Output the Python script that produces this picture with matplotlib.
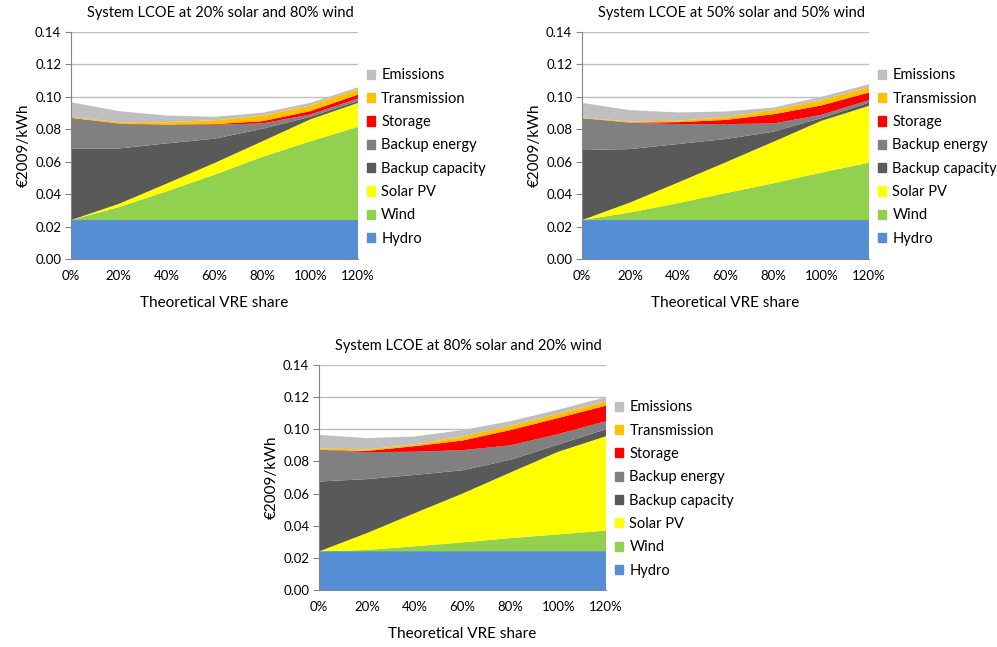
import numpy as np
import matplotlib.pyplot as plt
from matplotlib.patches import Patch
from matplotlib.ticker import FormatStrFormatter

plt.rcParams['font.family'] = ['Lato', 'DejaVu Sans']

# theoretical VRE share (%)
share = [0, 20, 40, 60, 80, 100, 120]
share_labels = ["0%", "20%", "40%", "60%", "80%", "100%", "120%"]

layers = ["Hydro", "Wind", "Solar PV", "Backup capacity", "Backup energy",
          "Storage", "Transmission", "Emissions"]
colors = ["#558ED5", "#92D050", "#FFFF00", "#595959", "#808080",
          "#FF0000", "#FFC000", "#BFBFBF"]

# 20% solar / 80% wind  (EUR2009/kWh, per component)
hydro_a = [0.024, 0.024, 0.024, 0.024, 0.024, 0.024, 0.024]
wind_a = [0.0, 0.008, 0.0177, 0.028, 0.039, 0.0486, 0.0575]
solar_a = [0.0, 0.002, 0.0048, 0.0072, 0.0096, 0.0135, 0.0148]
bcap_a = [0.044, 0.0342, 0.0248, 0.015, 0.0077, 0.0016, 0.0012]
benergy_a = [0.0191, 0.0152, 0.0113, 0.0086, 0.0033, 0.0014, 0.0015]
storage_a = [0.0, 0.0002, 0.0003, 0.0004, 0.0014, 0.0021, 0.0024]
trans_a = [0.0006, 0.0008, 0.0015, 0.0024, 0.0035, 0.0035, 0.0035]
emis_a = [0.009, 0.0068, 0.0041, 0.0021, 0.0017, 0.0016, 0.001]

# 50% solar / 50% wind
hydro_b = [0.024, 0.024, 0.024, 0.024, 0.024, 0.024, 0.024]
wind_b = [0.0, 0.0047, 0.0104, 0.0166, 0.0227, 0.0293, 0.0354]
solar_b = [0.0, 0.0061, 0.0127, 0.019, 0.0256, 0.0319, 0.0351]
bcap_b = [0.0432, 0.033, 0.0238, 0.0144, 0.0062, 0.0017, 0.002]
benergy_b = [0.0197, 0.0162, 0.0123, 0.0092, 0.0051, 0.002, 0.0015]
storage_b = [0.0, 0.0002, 0.0012, 0.0026, 0.0057, 0.0058, 0.0047]
trans_b = [0.0004, 0.0006, 0.0009, 0.0018, 0.0027, 0.0033, 0.0035]
emis_b = [0.009, 0.007, 0.0051, 0.0034, 0.0014, 0.002, 0.0016]

# 80% solar / 20% wind
hydro_c = [0.024, 0.024, 0.024, 0.024, 0.024, 0.024, 0.024]
wind_c = [0.0, 0.0009, 0.0032, 0.0056, 0.0083, 0.0106, 0.013]
solar_c = [0.0, 0.0105, 0.0206, 0.0304, 0.0408, 0.0514, 0.0587]
bcap_c = [0.0435, 0.0336, 0.0238, 0.0145, 0.0079, 0.0045, 0.0043]
benergy_c = [0.0197, 0.0168, 0.0144, 0.0125, 0.009, 0.0065, 0.005]
storage_c = [0.0, 0.0007, 0.0035, 0.006, 0.0095, 0.01, 0.0097]
trans_c = [0.0008, 0.001, 0.001, 0.0025, 0.0027, 0.0027, 0.0027]
emis_c = [0.0085, 0.007, 0.005, 0.004, 0.0028, 0.0025, 0.0026]


def draw_panel(ax, title, series):
    ax.stackplot(share, *series, colors=colors, linewidth=0)
    ax.set_xlim(0, 120)
    ax.set_ylim(0, 0.14)
    ax.set_yticks(np.arange(0, 0.141, 0.02))
    ax.yaxis.set_major_formatter(FormatStrFormatter('%.2f'))
    ax.set_xticks(share)
    ax.set_xticklabels(share_labels)
    ax.grid(axis='y', color='#BFBFBF', linewidth=1)
    ax.set_axisbelow(True)
    for side in ['top', 'right']:
        ax.spines[side].set_visible(False)
    for side in ['left', 'bottom']:
        ax.spines[side].set_color('#868686')
    ax.tick_params(axis='y', length=4, color='#868686', labelsize=9.5, pad=3)
    ax.tick_params(axis='x', length=0, labelsize=9.5, pad=8)
    ax.set_title(title, fontsize=10.5, pad=11, x=0.52)
    ax.set_ylabel("€2009/kWh", fontsize=11, labelpad=3)
    ax.set_xlabel("Theoretical VRE share", fontsize=11, labelpad=10)
    handles = [Patch(color=c, label=l) for c, l in zip(colors, layers)][::-1]
    ax.legend(handles=handles, loc='center left', bbox_to_anchor=(1.03, 0.449),
              frameon=False, fontsize=10.5, handlelength=0.6, handleheight=0.6,
              handletextpad=0.4, labelspacing=0.64, borderaxespad=0, borderpad=0)


fig = plt.figure(figsize=(9.97, 6.47), dpi=100)
ax1 = fig.add_axes([0.0712, 0.5997, 0.2879, 0.3508])
ax2 = fig.add_axes([0.5838, 0.5997, 0.2879, 0.3508])
ax3 = fig.add_axes([0.3200, 0.0881, 0.2879, 0.3478])

draw_panel(ax1, "System LCOE at 20% solar and 80% wind",
           [hydro_a, wind_a, solar_a, bcap_a, benergy_a, storage_a, trans_a, emis_a])
draw_panel(ax2, "System LCOE at 50% solar and 50% wind",
           [hydro_b, wind_b, solar_b, bcap_b, benergy_b, storage_b, trans_b, emis_b])
draw_panel(ax3, "System LCOE at 80% solar and 20% wind",
           [hydro_c, wind_c, solar_c, bcap_c, benergy_c, storage_c, trans_c, emis_c])

fig.savefig("out.png", dpi=100)
